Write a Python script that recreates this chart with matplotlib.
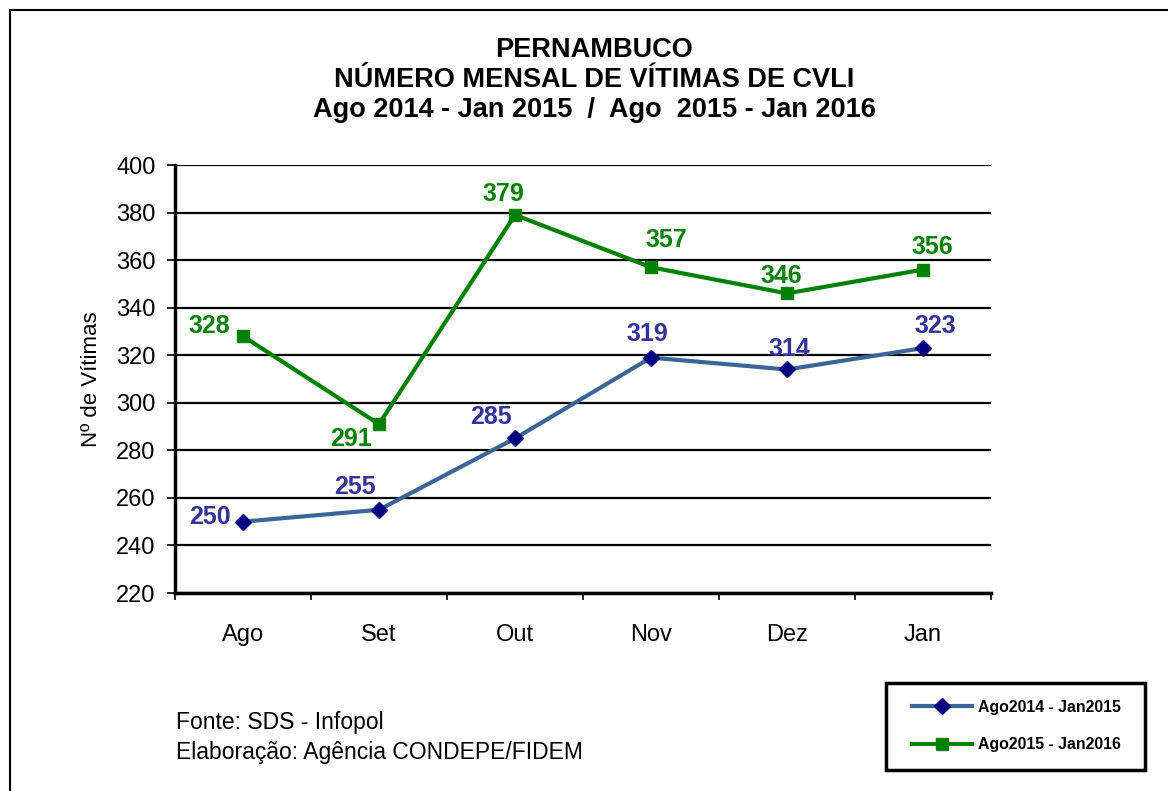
import matplotlib.pyplot as plt
from matplotlib.patches import Rectangle

plt.rcParams['font.family'] = ['Liberation Sans', 'DejaVu Sans']

meses = ['Ago', 'Set', 'Out', 'Nov', 'Dez', 'Jan']
v_2014 = [250, 255, 285, 319, 314, 323]
v_2015 = [328, 291, 379, 357, 346, 356]
serie_2014 = 'Ago2014 - Jan2015'
serie_2015 = 'Ago2015 - Jan2016'

fig = plt.figure(figsize=(11.68, 7.91), dpi=100)
W, H = 1168, 791
ax = fig.add_axes([175 / W, 1 - 593 / H, (991 - 175) / W, (593 - 165) / H])

x = list(range(len(meses)))
l1, = ax.plot(x, v_2014, color='#3A6596', lw=3, marker='D', ms=8,
              mfc='#000080', mec='#000080', label=serie_2014, zorder=3)
l2, = ax.plot(x, v_2015, color='#008000', lw=3, marker='s', ms=8,
              mfc='#008000', mec='#008000', label=serie_2015, zorder=3)

ax.set_xlim(-0.5, 5.5)
ax.set_ylim(220, 400)
ax.set_yticks(range(220, 401, 20))
ax.set_xticks([i - 0.5 for i in range(7)])
ax.set_xticklabels([])
ax.set_xticks(x, minor=True)
ax.set_xticklabels(meses, minor=True, fontsize=17)
ax.tick_params(axis='x', which='minor', length=0, pad=22)
ax.tick_params(axis='x', which='major', length=5, direction='out', width=1.2)
ax.tick_params(axis='y', length=6, direction='out', width=1.2, labelsize=17, pad=8)
ax.yaxis.grid(True, color='black', lw=1.6)
ax.set_axisbelow(True)
for s in ['top', 'right']:
    ax.spines[s].set_visible(False)
ax.spines['left'].set_linewidth(2.5)
ax.spines['bottom'].set_linewidth(2.5)
ax.set_ylabel('Nº de Vítimas', fontsize=16, labelpad=10)

# rótulos de dados (deslocamento em pixels)
off14 = [(-33, 5), (-24, 23), (-24, 21), (-4, 24), (2, 20), (12, 22)]
off15 = [(-34, 10), (-28, -15), (-12, 21), (15, 27), (-6, 17), (9, 23)]
for i in x:
    ax.annotate(str(v_2014[i]), (i, v_2014[i]), xytext=off14[i], textcoords='offset pixels',
                ha='center', va='center', fontsize=18, fontweight='bold', color='#333399')
    ax.annotate(str(v_2015[i]), (i, v_2015[i]), xytext=off15[i], textcoords='offset pixels',
                ha='center', va='center', fontsize=18, fontweight='bold', color='#008000')

fig.text(594 / W, 1 - 80 / H,
         'PERNAMBUCO\nNÚMERO MENSAL DE VÍTIMAS DE CVLI\nAgo 2014 - Jan 2015  /  Ago  2015 - Jan 2016',
         ha='center', va='center', fontsize=19.5, fontweight='bold', linespacing=1.2)

fig.text(176 / W, 1 - 723 / H, 'Fonte: SDS - Infopol', fontsize=16.5, va='center')
fig.text(176 / W, 1 - 752 / H, 'Elaboração: Agência CONDEPE/FIDEM', fontsize=16.5, va='center')

# moldura externa
fig.patches.append(Rectangle((10 / W, -0.05), 1.1, 1 - 10 / H + 0.05, transform=fig.transFigure,
                             fill=False, ec='black', lw=1.5))

# caixa da legenda
fig.patches.append(Rectangle((886 / W, 1 - 770 / H), (1145 - 886) / W, (770 - 683) / H,
                             transform=fig.transFigure, fill=False, ec='black', lw=2.5))
fig.legend(handles=[l1, l2], loc='center left', bbox_to_anchor=(912 / W, 1 - 726 / H),
           prop={'weight': 'bold', 'size': 11.4}, frameon=False,
           handlelength=3.8, handletextpad=0.4, labelspacing=1.45,
           borderpad=0, borderaxespad=0)

fig.savefig('out.png', dpi=100)
